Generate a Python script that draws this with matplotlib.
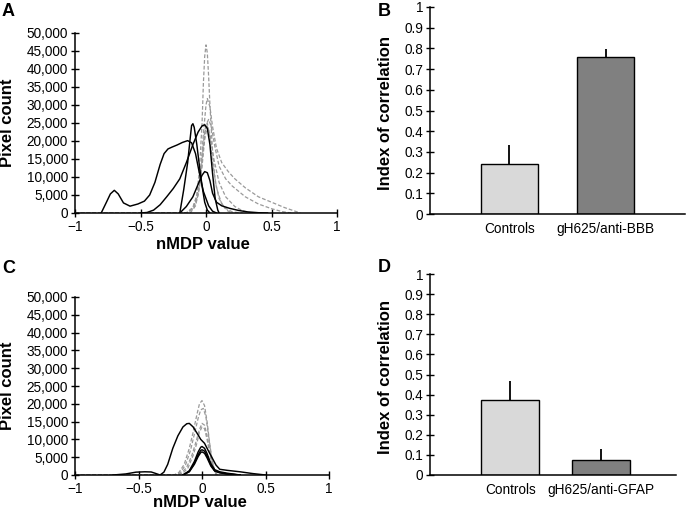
import matplotlib
matplotlib.use("Agg")
from matplotlib import pyplot as plt
from matplotlib.ticker import StrMethodFormatter, FuncFormatter

plt.rcParams["font.family"] = ["Liberation Sans", "DejaVu Sans"]

# ---- panel A: nMDP histograms (solid = gH625/anti-BBB, dashed = controls)
a_solid1_x = [-0.80, -0.76, -0.73, -0.70, -0.67, -0.63, -0.58, -0.52, -0.47, -0.43, -0.39, -0.35,
              -0.32, -0.29, -0.26, -0.22, -0.18, -0.14, -0.11, -0.08, -0.05, -0.02, 0.02, 0.05, 0.08]
a_solid1_y = [0, 3000, 5300, 6300, 5300, 2800, 1900, 2500, 3300, 5000, 8500, 13500,
              16500, 17800, 18300, 18900, 19600, 20100, 19500, 16500, 11000, 6000, 2000, 500, 0]
a_solid2_x = [-0.50, -0.45, -0.40, -0.35, -0.30, -0.25, -0.20, -0.15, -0.10, -0.06, -0.03, -0.01,
              0.01, 0.03, 0.05, 0.07, 0.09, 0.10]
a_solid2_y = [0, 150, 800, 2300, 4500, 6800, 9500, 14000, 19000, 22500, 24200, 24500,
              23500, 19000, 11000, 4000, 800, 0]
a_solid3_x = [-0.20, -0.17, -0.14, -0.12, -0.11, -0.10, -0.09, -0.07, -0.05, -0.03, -0.01,
              0.01, 0.03]
a_solid3_y = [0, 6500, 14000, 21000, 24300, 24800, 23800, 19000, 13000, 7500, 3000,
              800, 0]
a_solid4_x = [-0.20, -0.15, -0.10, -0.06, -0.03, -0.01, 0.01, 0.03, 0.05, 0.08, 0.12, 0.18,
              0.25, 0.32, 0.40, 0.47]
a_solid4_y = [0, 1800, 4500, 8000, 10500, 11500, 11200, 9000, 5500, 3000, 2000, 1300,
              700, 300, 80, 0]

a_dash1_x = [-1.0, -0.15, -0.10, -0.07, -0.05, -0.03, -0.02, -0.01, 0.0, 0.01, 0.02, 0.03,
             0.05, 0.07, 0.10, 0.14, 0.20, 0.28]
a_dash1_y = [0, 0, 1500, 5000, 12000, 25000, 36000, 43500, 46700, 44500, 38000, 30000,
             17000, 9000, 4000, 1500, 300, 0]
a_dash2_x = [-1.0, -0.15, -0.10, -0.07, -0.04, -0.02, 0.0, 0.01, 0.03, 0.05, 0.08, 0.12,
             0.17, 0.22, 0.30, 0.40, 0.50, 0.60, 0.72]
a_dash2_y = [0, 0, 1500, 4500, 12000, 22000, 30000, 31800, 29500, 24000, 18000, 14000,
             11500, 9500, 7000, 4500, 3000, 1500, 0]
a_dash3_x = [-1.0, -0.15, -0.10, -0.07, -0.04, -0.02, 0.0, 0.02, 0.04, 0.07, 0.10, 0.15,
             0.20, 0.30, 0.40, 0.50, 0.58, 0.65]
a_dash3_y = [0, 0, 1200, 4000, 10000, 18000, 24500, 26000, 24000, 18000, 13000, 9500,
             7500, 4500, 2500, 1200, 400, 0]
a_dash4_x = [-1.0, -0.12, -0.08, -0.05, -0.03, -0.01, 0.01, 0.03, 0.05, 0.08, 0.12, 0.16, 0.20]
a_dash4_y = [0, 0, 2000, 7000, 15000, 23000, 25000, 21000, 14000, 7000, 2500, 700, 0]
a_dash5_x = [-1.0, -0.14, -0.09, -0.06, -0.03, -0.01, 0.01, 0.03, 0.06, 0.10, 0.15, 0.22,
             0.28, 0.35]
a_dash5_y = [0, 0, 1500, 5000, 13000, 20500, 24000, 22000, 15000, 8500, 4500, 1800, 600, 0]

# ---- panel C: nMDP histograms (solid = gH625/anti-GFAP, dashed = controls)
c_solid1_x = [-0.70, -0.60, -0.52, -0.45, -0.40, -0.37, -0.33, -0.30, -0.27, -0.23, -0.19,
              -0.15, -0.12, -0.10, -0.07, -0.04, -0.01, 0.02, 0.05, 0.08, 0.11, 0.14, 0.20,
              0.30, 0.40, 0.50]
c_solid1_y = [0, 300, 800, 900, 850, 500, 0, 800, 3000, 7500, 11000,
              13500, 14400, 14500, 13500, 11800, 10000, 8900, 6800, 4800, 2800, 1600, 1300,
              900, 400, 0]
c_solid2_x = [-0.15, -0.10, -0.06, -0.03, -0.01, 0.0, 0.02, 0.04, 0.07, 0.10, 0.14, 0.20, 0.30]
c_solid2_y = [0, 1200, 3800, 6500, 7800, 8000, 7500, 6000, 3200, 1500, 900, 500, 0]
c_solid3_x = [-0.15, -0.10, -0.06, -0.03, -0.01, 0.0, 0.02, 0.04, 0.07, 0.10, 0.14, 0.20, 0.30]
c_solid3_y = [0, 1000, 3300, 5700, 6900, 7100, 6700, 5300, 2800, 1200, 700, 300, 0]
c_solid4_x = [-0.15, -0.10, -0.06, -0.03, -0.01, 0.0, 0.02, 0.04, 0.07, 0.10, 0.14, 0.20, 0.30]
c_solid4_y = [0, 900, 3000, 5200, 6300, 6500, 6100, 4800, 2500, 1100, 600, 250, 0]

c_dash1_x = [-1.0, -0.22, -0.18, -0.14, -0.10, -0.07, -0.04, -0.02, 0.0, 0.02, 0.04, 0.06,
             0.08, 0.10, 0.12]
c_dash1_y = [0, 0, 800, 3000, 7500, 12000, 17000, 20000, 20900, 19500, 15000, 9000,
             4000, 1200, 0]
c_dash2_x = [-1.0, -0.21, -0.17, -0.13, -0.09, -0.06, -0.03, -0.01, 0.01, 0.03, 0.05,
             0.07, 0.09, 0.11]
c_dash2_y = [0, 0, 700, 2800, 7000, 11500, 16000, 18300, 18700, 16500, 11500, 6000,
             2200, 0]
c_dash3_x = [-1.0, -0.20, -0.16, -0.12, -0.08, -0.05, -0.02, 0.0, 0.02, 0.04, 0.06,
             0.08, 0.10, 0.12]
c_dash3_y = [0, 0, 600, 2200, 5500, 9000, 12800, 14500, 14000, 11000, 7000, 3500,
             1000, 0]
c_dash4_x = [-1.0, -0.19, -0.15, -0.11, -0.07, -0.04, -0.02, 0.0, 0.02, 0.04, 0.06,
             0.08, 0.10, 0.12]
c_dash4_y = [0, 0, 500, 2000, 5500, 9000, 12000, 13500, 13000, 10000, 6200, 3000,
             900, 0]

# ---- bar panels B and D
bar_colors = ["#d9d9d9", "#808080"]
b_labels = ["Controls", "gH625/anti-BBB"]
b_values = [0.24, 0.76]
b_errors = [0.095, 0.035]
d_labels = ["Controls", "gH625/anti-GFAP"]
d_values = [0.372, 0.075]
d_errors = [0.095, 0.055]

a_solid = [(a_solid1_x, a_solid1_y), (a_solid2_x, a_solid2_y),
           (a_solid3_x, a_solid3_y), (a_solid4_x, a_solid4_y)]
a_dash = [(a_dash1_x, a_dash1_y), (a_dash2_x, a_dash2_y), (a_dash3_x, a_dash3_y),
          (a_dash4_x, a_dash4_y), (a_dash5_x, a_dash5_y)]
c_solid = [(c_solid1_x, c_solid1_y), (c_solid2_x, c_solid2_y),
           (c_solid3_x, c_solid3_y), (c_solid4_x, c_solid4_y)]
c_dash = [(c_dash1_x, c_dash1_y), (c_dash2_x, c_dash2_y),
          (c_dash3_x, c_dash3_y), (c_dash4_x, c_dash4_y)]

fig = plt.figure(figsize=(6.86, 5.09), dpi=100)
W, H = 686, 509


def px_axes(x0, x1, ytop, ybot):
    return fig.add_axes([x0 / W, 1 - ybot / H, (x1 - x0) / W, (ybot - ytop) / H])


def style(ax):
    for s in ["top", "right"]:
        ax.spines[s].set_visible(False)
    for s in ["left", "bottom"]:
        ax.spines[s].set_linewidth(1.1)
        ax.spines[s].set_color("black")
    ax.tick_params(direction="inout", length=6, width=1.0, labelsize=9.8, pad=2)


def hist_panel(ax, solid, dash, ylab_x, xlab_y):
    for x, y in dash:
        ax.plot(x, y, color="#9a9a9a", lw=0.9, ls=(0, (3, 1.6)))
    for x, y in solid:
        ax.plot(x, y, color="black", lw=1.05)
    style(ax)
    ax.set_xlim(-1, 1)
    ax.set_ylim(0, 50000)
    ax.set_xticks([-1, -0.5, 0, 0.5, 1])
    ax.set_xticklabels(["\u22121", "\u22120.5", "0", "0.5", "1"])
    ax.set_yticks(range(0, 50001, 5000))
    ax.yaxis.set_major_formatter(StrMethodFormatter("{x:,.0f}"))
    ax.set_ylabel("Pixel count", fontsize=12, fontweight="bold")
    ax.set_xlabel("nMDP value", fontsize=12, fontweight="bold")
    ax.yaxis.set_label_coords(ylab_x, 0.5)
    ax.xaxis.set_label_coords(0.49, xlab_y)


def bar_panel(ax, labels, values, errors, xlim, width, ylab_x):
    pos = list(range(len(values)))
    ax.bar(pos, values, width=width, color=bar_colors, edgecolor="black", lw=1.0, zorder=2)
    ax.errorbar(pos, values, yerr=[[0] * len(errors), errors], fmt="none",
                ecolor="black", elinewidth=1.3, capsize=0, zorder=1)
    style(ax)
    ax.set_xlim(*xlim)
    ax.set_ylim(0, 1)
    ax.set_yticks([i / 10 for i in range(11)])
    ax.yaxis.set_major_formatter(FuncFormatter(lambda v, p: "%g" % round(v, 1)))
    ax.set_xticks(pos)
    ax.set_xticklabels(labels)
    ax.tick_params(axis="x", length=0, pad=6)
    ax.set_ylabel("Index of correlation", fontsize=12, fontweight="bold")
    ax.yaxis.set_label_coords(ylab_x, 0.49)


ax_a = px_axes(75, 337, 33, 213)
hist_panel(ax_a, a_solid, a_dash, -0.229, -0.133)

ax_b = px_axes(430, 685, 7, 214)
bar_panel(ax_b, b_labels, b_values, b_errors, (-0.82, 1.82), 0.59, -0.145)

ax_c = px_axes(75, 329, 297, 475)
hist_panel(ax_c, c_solid, c_dash, -0.236, -0.110)

ax_d = px_axes(430, 676, 274, 475)
bar_panel(ax_d, d_labels, d_values, d_errors, (-0.88, 1.82), 0.64, -0.150)

for letter, x, y in [("A", 2, 3), ("B", 378, 3), ("C", 2, 260), ("D", 378, 259)]:
    fig.text(x / W, 1 - y / H, letter, fontsize=13, fontweight="bold", ha="left", va="top")

fig.savefig("out.png", dpi=100)
